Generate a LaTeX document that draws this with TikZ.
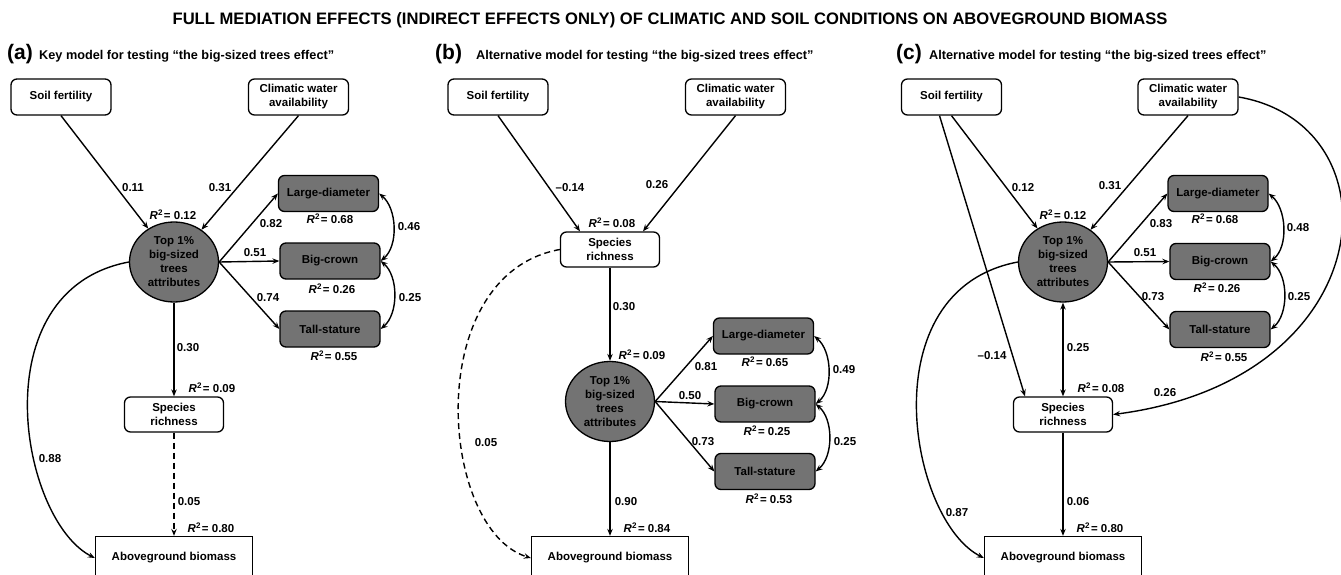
\documentclass[tikz,border=0pt]{standalone}
\usepackage{fontspec}
\setmainfont{Liberation Sans}
\usepackage{tikz}
\usetikzlibrary{positioning,shapes.geometric,arrows.meta}

\definecolor{attrgray}{RGB}{115,115,115}
\newcommand{\rsq}[1]{\textit{R}\textsuperscript{2}\kern1pt= #1}

\tikzset{
  obsbox/.style={draw,rounded corners=6pt,line width=1.3pt,minimum width=100pt,minimum height=36pt,inner sep=2pt,align=center},
  greybox/.style={obsbox,fill=attrgray},
  latent/.style={ellipse,draw,fill=attrgray,line width=1.3pt,minimum width=89pt,minimum height=80pt,inner sep=0pt,align=center},
  agbbox/.style={draw,line width=1.3pt,minimum width=157pt,minimum height=43pt},
  link/.style={->,line width=1.4pt},
  covlink/.style={<->,line width=1.4pt},
  weaklink/.style={link,dash pattern=on 6pt off 4pt},
  heading/.style={anchor=base west,inner sep=0pt},
}

\begin{document}
\begin{tikzpicture}[x=1pt,y=-1pt,>={Stealth[length=7pt,width=5.5pt,inset=2.5pt]},
  every node/.style={font=\bfseries\fontsize{11.5}{14}\selectfont}]
\useasboundingbox (0,0) rectangle (1341,575);
\clip (0,0) rectangle (1341,575);

% title and panel headings
\node[anchor=base,inner sep=0pt,font=\bfseries\fontsize{16.6}{19}\selectfont](title) at (670,25){FULL MEDIATION EFFECTS (INDIRECT EFFECTS ONLY) OF CLIMATIC AND SOIL CONDITIONS ON ABOVEGROUND BIOMASS};
\node[heading,font=\bfseries\fontsize{21}{24}\selectfont](tagA) at (7,60){(a)};
\node[heading,font=\bfseries\fontsize{12.7}{15}\selectfont](headA) at (39,60){Key model for testing “the big-sized trees effect”};
\node[heading,font=\bfseries\fontsize{21}{24}\selectfont](tagB) at (435,60){(b)};
\node[heading,font=\bfseries\fontsize{12.7}{15}\selectfont](headB) at (476,60){Alternative model for testing “the big-sized trees effect”};
\node[heading,font=\bfseries\fontsize{21}{24}\selectfont](tagC) at (896,60){(c)};
\node[heading,font=\bfseries\fontsize{12.7}{15}\selectfont](headC) at (929,60){Alternative model for testing “the big-sized trees effect”};

% (a) key model
\node[obsbox](soilA) at (61,97){Soil fertility};
\node[obsbox](climA) at (298.5,97){Climatic water\\availability};
\node[latent](topA) at (174,262){Top 1\%\\big-sized\\trees\\attributes};
\node[greybox](largeA) at (328.5,193.5){Large-diameter};
\node[greybox](crownA) at (330,261){Big-crown};
\node[greybox](tallA) at (330,329){Tall-stature};
\node[obsbox,minimum width=99pt,minimum height=35pt](srA) at (174,414.5){Species\\richness};
\node[agbbox](agbA) at (174,558){Aboveground biomass};
\path[link,draw](soilA.south)--(topA);
\path[link,draw](climA.south)--(topA);
\path[link,draw](topA.east)--(largeA.west);
\path[link,draw](topA.east)--(crownA.west);
\path[link,draw](topA.east)--(tallA.west);
\path[covlink,draw](largeA.east) .. controls +(18,15) and +(18,-15) .. (crownA.east);
\path[covlink,draw](crownA.east) .. controls +(18,15) and +(18,-15) .. (tallA.east);
\path[link,draw](topA.south)--(srA.north);
\path[weaklink,draw](srA.south)--(agbA.north);
\path[link,draw](topA.west) .. controls +(-149,28) and +(-75,-38) .. (agbA.west);
\node(cA1) at (133,188){0.11};
\node(cA2) at (220,188){0.31};
\node(rA1) at (173,215){\rsq{0.12}};
\node(rA2) at (330,219){\rsq{0.68}};
\node(rA3) at (332,289){\rsq{0.26}};
\node(rA4) at (334,356){\rsq{0.55}};
\node(cA3) at (271,224){0.82};
\node(cA4) at (255,253){0.51};
\node(cA5) at (268,298){0.74};
\node(cA6) at (409,227){0.46};
\node(cA7) at (410,298){0.25};
\node(cA8) at (188,348){0.30};
\node(rA5) at (212,388){\rsq{0.09}};
\node(cA9) at (189,502){0.05};
\node(rA6) at (211,528){\rsq{0.80}};
\node(cA10) at (50,459){0.88};

% (b) alternative model
\node[obsbox](soilB) at (498,97){Soil fertility};
\node[obsbox](climB) at (735.5,97){Climatic water\\availability};
\node[obsbox,minimum width=99pt,minimum height=35pt](srB) at (610,249.5){Species\\richness};
\node[latent](topB) at (610,401.5){Top 1\%\\big-sized\\trees\\attributes};
\node[greybox](largeB) at (763.5,336){Large-diameter};
\node[greybox](crownB) at (765,404){Big-crown};
\node[greybox](tallB) at (765,471.5){Tall-stature};
\node[agbbox](agbB) at (610,558){Aboveground biomass};
\path[link,draw](soilB.south)--([xshift=-30pt]srB.north);
\path[link,draw](climB.south)--([xshift=33pt]srB.north);
\path[link,draw](srB.south)--(topB.north);
\path[link,draw](topB.east)--(largeB.west);
\path[link,draw](topB.east)--(crownB.west);
\path[link,draw](topB.east)--(tallB.west);
\path[covlink,draw](largeB.east) .. controls +(18,15) and +(18,-15) .. (crownB.east);
\path[covlink,draw](crownB.east) .. controls +(18,15) and +(18,-15) .. (tallB.east);
\path[link,draw](topB.south)--(agbB.north);
\path[weaklink,draw](srB.west) .. controls +(-139,25) and +(-92,-28) .. (agbB.west);
\node(cB1) at (570,188){–0.14};
\node(cB2) at (657,185){0.26};
\node(rB1) at (612,223){\rsq{0.08}};
\node(cB3) at (624,307){0.30};
\node(rB2) at (642,355){\rsq{0.09}};
\node(rB3) at (765,362){\rsq{0.65}};
\node(rB4) at (767,431){\rsq{0.25}};
\node(rB5) at (769,499){\rsq{0.53}};
\node(cB4) at (706,367){0.81};
\node(cB5) at (690,396){0.50};
\node(cB6) at (703,442){0.73};
\node(cB7) at (844,370){0.49};
\node(cB8) at (845,442){0.25};
\node(cB9) at (626,502){0.90};
\node(rB6) at (647,528){\rsq{0.84}};
\node(cB10) at (486,443){0.05};

% (c) alternative model
\node[obsbox](soilC) at (951.5,97){Soil fertility};
\node[obsbox](climC) at (1188,97){Climatic water\\availability};
\node[latent](topC) at (1063,262){Top 1\%\\big-sized\\trees\\attributes};
\node[greybox](largeC) at (1218,193.5){Large-diameter};
\node[greybox](crownC) at (1220,261.5){Big-crown};
\node[greybox](tallC) at (1220,329.5){Tall-stature};
\node[obsbox,minimum width=99pt,minimum height=35pt](srC) at (1063,414.5){Species\\richness};
\node[agbbox](agbC) at (1063,558){Aboveground biomass};
\path[link,draw](soilC.south)--(topC);
\path[link,draw]([xshift=-12pt]soilC.south)--([xshift=-38pt]srC.north);
\path[link,draw](climC.south)--(topC);
\path[link,draw](climC.east) .. controls +(162,28) and +(270,-35) .. (srC.east);
\path[link,draw](topC.east)--(largeC.west);
\path[link,draw](topC.east)--(crownC.west);
\path[link,draw](topC.east)--(tallC.west);
\path[covlink,draw](largeC.east) .. controls +(18,15) and +(18,-15) .. (crownC.east);
\path[covlink,draw](crownC.east) .. controls +(18,15) and +(18,-15) .. (tallC.east);
\path[covlink,draw](topC.south)--(srC.north);
\path[link,draw](srC.south)--(agbC.north);
\path[link,draw](topC.west) .. controls +(-149,28) and +(-75,-38) .. (agbC.west);
\node(cC1) at (1023,188){0.12};
\node(cC2) at (1110,186){0.31};
\node(rC1) at (1063,215){\rsq{0.12}};
\node(rC2) at (1215,219){\rsq{0.68}};
\node(rC3) at (1217,288){\rsq{0.26}};
\node(rC4) at (1224,357){\rsq{0.55}};
\node(cC3) at (1161,224){0.83};
\node(cC4) at (1145,253){0.51};
\node(cC5) at (1153,297){0.73};
\node(cC6) at (1298,228){0.48};
\node(cC7) at (1299,297){0.25};
\node(cC8) at (992,356){–0.14};
\node(cC9) at (1078,348){0.25};
\node(rC5) at (1101,388){\rsq{0.08}};
\node(cC10) at (1165,393){0.26};
\node(cC11) at (1078,502){0.06};
\node(rC6) at (1100,528){\rsq{0.80}};
\node(cC12) at (957,513){0.87};
\end{tikzpicture}
\end{document}
